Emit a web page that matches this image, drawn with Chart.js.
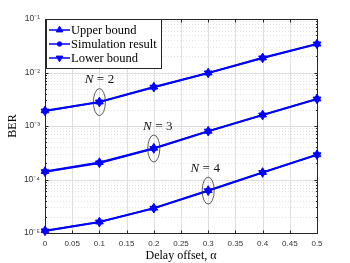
<!DOCTYPE html>
<html>
<head>
<meta charset="utf-8">
<script src="https://cdn.jsdelivr.net/npm/chart.js@4/dist/chart.umd.min.js"></script>
<style>
  html, body { margin: 0; padding: 0; background: #fff; }
  #wrap { width: 350px; height: 263px; }
</style>
</head>
<body>
<div id="wrap"><canvas id="berChart" width="350" height="263"></canvas></div>
<script>
// values
const alphas = [0, 0.1, 0.2, 0.3, 0.4, 0.5];
const groupNames = ['2', '3', '4'];

const upperN2 = [1.95e-3, 2.85e-3, 5.4e-3, 9.9e-3, 1.9e-2, 3.45e-2];
const simN2   = [1.9e-3, 2.8e-3, 5.3e-3, 9.8e-3, 1.87e-2, 3.4e-2];
const lowerN2 = [1.88e-3, 2.77e-3, 5.25e-3, 9.7e-3, 1.85e-2, 3.37e-2];

const upperN3 = [1.43e-4, 2.1e-4, 3.9e-4, 8.1e-4, 1.63e-3, 3.25e-3];
const simN3   = [1.4e-4, 2.05e-4, 3.8e-4, 8.0e-4, 1.6e-3, 3.2e-3];
const lowerN3 = [1.38e-4, 2.02e-4, 3.75e-4, 7.9e-4, 1.58e-3, 3.15e-3];

const upperN4 = [1.12e-5, 1.63e-5, 2.95e-5, 6.3e-5, 1.37e-4, 2.95e-4];
const simN4   = [1.1e-5, 1.6e-5, 2.9e-5, 6.2e-5, 1.35e-4, 2.9e-4];
const lowerN4 = [1.08e-5, 1.58e-5, 2.86e-5, 6.1e-5, 1.33e-4, 2.86e-4];

const xTicks = [0, 0.05, 0.1, 0.15, 0.2, 0.25, 0.3, 0.35, 0.4, 0.45, 0.5];
const yDecades = [1e-5, 1e-4, 1e-3, 1e-2, 1e-1];
const yTickLabels = ['10\u207B\u2075', '10\u207B\u2074', '10\u207B\u00B3', '10\u207B\u00B2', '10\u207B\u00B9'];
const legendLabels = ['Upper bound', 'Simulation result', 'Lower bound'];
const circledAlpha = [0.1, 0.2, 0.3];

const BLUE = '#0000ff';
const AXIS = '#262626';
const SERIF = '"Liberation Serif", "DejaVu Serif", serif';
const SANS = '"Liberation Sans", Arial, sans-serif';

const upper = [upperN2, upperN3, upperN4];
const sim = [simN2, simN3, simN4];
const lower = [lowerN2, lowerN3, lowerN4];

const kinds = [
  { vals: upper, style: 'triangle', rotation: 0, radius: 4.5 },
  { vals: sim, style: 'circle', rotation: 0, radius: 2.2 },
  { vals: lower, style: 'triangle', rotation: 180, radius: 4.5 }
];

const datasets = [];
groupNames.forEach((g, gi) => {
  kinds.forEach((k, ki) => {
    datasets.push({
      label: legendLabels[ki] + ' N=' + g,
      data: alphas.map((a, i) => ({ x: a, y: k.vals[gi][i] })),
      borderColor: BLUE,
      backgroundColor: BLUE,
      borderWidth: 1.5,
      pointStyle: k.style,
      rotation: k.rotation,
      pointRadius: k.radius,
      pointBorderWidth: 1,
      pointHoverRadius: k.radius,
      tension: 0,
      clip: false
    });
  });
});

function crisp(v) { return Math.round(v) + 0.5; }

const frame = {
  id: 'frame',
  beforeDatasetsDraw(chart) {
    const { ctx, chartArea: a, scales: { x, y } } = chart;
    ctx.save();
    ctx.lineWidth = 1;

    // minor grid (dotted)
    ctx.strokeStyle = '#e4e4e4';
    ctx.setLineDash([1, 2]);
    yDecades.slice(0, -1).forEach(d => {
      for (let m = 2; m <= 9; m++) {
        const py = crisp(y.getPixelForValue(d * m));
        ctx.beginPath(); ctx.moveTo(a.left, py); ctx.lineTo(a.right, py); ctx.stroke();
      }
    });
    ctx.setLineDash([]);

    // major grid
    ctx.strokeStyle = '#dedede';
    xTicks.forEach(v => {
      const px = crisp(x.getPixelForValue(v));
      ctx.beginPath(); ctx.moveTo(px, a.top); ctx.lineTo(px, a.bottom); ctx.stroke();
    });
    yDecades.forEach(v => {
      const py = crisp(y.getPixelForValue(v));
      ctx.beginPath(); ctx.moveTo(a.left, py); ctx.lineTo(a.right, py); ctx.stroke();
    });

    // box and inward ticks
    ctx.strokeStyle = AXIS;
    const L = crisp(a.left), R = crisp(a.right), T = crisp(a.top), B = crisp(a.bottom);
    ctx.strokeRect(L, T, R - L, B - T);
    ctx.beginPath();
    xTicks.forEach(v => {
      const px = crisp(x.getPixelForValue(v));
      ctx.moveTo(px, B); ctx.lineTo(px, B - 3);
      ctx.moveTo(px, T); ctx.lineTo(px, T + 3);
    });
    yDecades.forEach(v => {
      const py = crisp(y.getPixelForValue(v));
      ctx.moveTo(L, py); ctx.lineTo(L + 3, py);
      ctx.moveTo(R, py); ctx.lineTo(R - 3, py);
    });
    yDecades.slice(0, -1).forEach(d => {
      for (let m = 2; m <= 9; m++) {
        const py = crisp(y.getPixelForValue(d * m));
        ctx.moveTo(L, py); ctx.lineTo(L + 1.5, py);
        ctx.moveTo(R, py); ctx.lineTo(R - 1.5, py);
      }
    });
    ctx.stroke();
    ctx.restore();
  },
  afterDatasetsDraw(chart) {
    const { ctx, scales: { x, y } } = chart;
    ctx.save();

    // circled points with N labels
    groupNames.forEach((g, gi) => {
      const i = alphas.indexOf(circledAlpha[gi]);
      const px = x.getPixelForValue(circledAlpha[gi]);
      const py = y.getPixelForValue(sim[gi][i]);
      ctx.strokeStyle = '#333';
      ctx.lineWidth = 0.8;
      ctx.beginPath();
      ctx.ellipse(px, py, 6, 13.5, 0, 0, Math.PI * 2);
      ctx.stroke();

      const dx = [0, 4, -3][gi];
      const ly = py - 22;
      ctx.fillStyle = '#111';
      ctx.textBaseline = 'middle';
      ctx.font = 'italic 13px ' + SERIF;
      const wN = ctx.measureText('N').width;
      ctx.font = '13px ' + SERIF;
      const wEq = ctx.measureText('=').width;
      const wD = ctx.measureText(g).width;
      const gap = 3.5;
      const total = wN + gap + wEq + gap + wD;
      let cx = px + dx - total / 2;
      ctx.textAlign = 'left';
      ctx.font = 'italic 13px ' + SERIF;
      ctx.fillText('N', cx, ly);
      cx += wN + gap;
      ctx.font = '13px ' + SERIF;
      ctx.fillText('=', cx, ly);
      cx += wEq + gap;
      ctx.fillText(g, cx, ly);
    });

    // legend box
    const bx = 46.5, by = 19.5, bw = 115, bh = 49;
    ctx.fillStyle = '#fff';
    ctx.fillRect(bx, by, bw, bh);
    ctx.strokeStyle = AXIS;
    ctx.lineWidth = 1;
    ctx.strokeRect(bx, by, bw, bh);
    legendLabels.forEach((lab, li) => {
      const ry = 30 + li * 14;
      ctx.strokeStyle = BLUE;
      ctx.lineWidth = 1.5;
      ctx.beginPath(); ctx.moveTo(49, ry); ctx.lineTo(70, ry); ctx.stroke();
      ctx.fillStyle = BLUE;
      ctx.lineWidth = 1;
      const k = kinds[li];
      Chart.helpers.drawPoint(ctx, {
        pointStyle: k.style, rotation: k.rotation, radius: k.style === 'circle' ? 2.2 : 3.8, borderWidth: 1
      }, 59.5, ry);
      ctx.fillStyle = '#000';
      ctx.font = '12.5px ' + SERIF;
      ctx.textAlign = 'left';
      ctx.textBaseline = 'middle';
      ctx.fillText(lab, 71, ry + 0.5);
    });
    ctx.restore();
  }
};

new Chart(document.getElementById('berChart'), {
  type: 'line',
  data: { datasets },
  options: {
    responsive: false,
    animation: false,
    devicePixelRatio: 1,
    layout: { padding: { top: 19, right: 33, left: 0, bottom: 0 } },
    plugins: { legend: { display: false }, tooltip: { enabled: false } },
    scales: {
      x: {
        type: 'linear',
        min: 0, max: 0.5,
        afterBuildTicks: s => { s.ticks = xTicks.map(v => ({ value: v })); },
        afterFit: s => { s.height = 30; },
        grid: { display: false, drawTicks: false },
        border: { display: false },
        ticks: {
          padding: 6,
          color: '#333',
          font: { family: SANS, size: 8 },
          maxRotation: 0,
          autoSkip: false,
          callback: v => String(+v.toFixed(2))
        },
        title: {
          display: true,
          text: 'Delay offset, \u03B1',
          color: '#000',
          font: { family: SERIF, size: 12 },
          padding: { top: 0, bottom: 0 }
        }
      },
      y: {
        type: 'logarithmic',
        min: 1e-5, max: 1e-1,
        afterBuildTicks: s => { s.ticks = yDecades.map(v => ({ value: v })); },
        afterFit: s => { s.width = 45; },
        grid: { display: false, drawTicks: false },
        border: { display: false },
        ticks: {
          padding: 5,
          color: '#333',
          font: { family: SANS, size: 8.5 },
          autoSkip: false,
          callback: v => yTickLabels[yDecades.indexOf(v)] ?? ''
        },
        title: {
          display: true,
          text: 'BER',
          color: '#000',
          font: { family: SERIF, size: 12 },
          padding: { top: 6, bottom: 0 }
        }
      }
    }
  },
  plugins: [frame]
});
</script>
</body>
</html>
